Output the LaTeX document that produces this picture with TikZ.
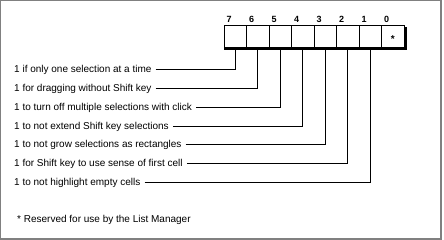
\documentclass[tikz,border=0pt]{standalone}
\usepackage{fontspec}
\setmainfont{Liberation Sans}
\usetikzlibrary{calc}
\begin{document}
\begin{tikzpicture}[x=1pt,y=-1pt,
  cell/.style={draw, line width=1pt, minimum width=22.5pt, minimum height=22pt, inner sep=0pt, outer sep=0pt, anchor=north west},
  lbl/.style={font=\fontsize{10}{12}\selectfont, inner sep=0pt, anchor=west},
  bitno/.style={font=\bfseries\fontsize{9}{10}\selectfont, inner sep=0pt},
  conn/.style={line width=1pt},
  frame/.style={draw=gray}]
\useasboundingbox (0,0) rectangle (444,240);
% frame
\draw[frame, line width=1pt] (0.5,239) -- (0.5,0.5) -- (441,0.5);
\draw[frame, line width=2pt] (441,0) -- (441,239) -- (0,239);
% cells
\foreach \b in {7,6,...,0} {
  \pgfmathsetmacro\xx{224+(7-\b)*22.5}
  \node[cell] (c\b) at (\xx,26) {};
  \node[bitno] (d\b) at (\xx+5,19) {\b};
}
\node[font=\bfseries\fontsize{10}{12}\selectfont, inner sep=0pt] (star) at ($(c0.center)+(0,2)$) {*};
% shadow
\draw[line width=2pt] ($(c7.south west)+(0,1.5)$) -| ($(c0.north east)+(1.5,1)$);
% labels
\node[lbl] (t7) at (14,70) {1 if only one selection at a time};
\node[lbl] (t6) at (14,89) {1 for dragging without Shift key};
\node[lbl] (t5) at (14,108) {1 to turn off multiple selections with click};
\node[lbl] (t4) at (14,126.5) {1 to not extend Shift key selections};
\node[lbl] (t3) at (14,145) {1 to not grow selections as rectangles};
\node[lbl] (t2) at (14,164) {1 for Shift key to use sense of first cell};
\node[lbl] (t1) at (14,183) {1 to not highlight empty cells};
\foreach \b in {7,6,...,1} {
  \draw[conn] ([xshift=4pt]t\b.east) -| (c\b.south);
}
\node[lbl] (note) at (17,220) {* Reserved for use by the List Manager};
\end{tikzpicture}
\end{document}
